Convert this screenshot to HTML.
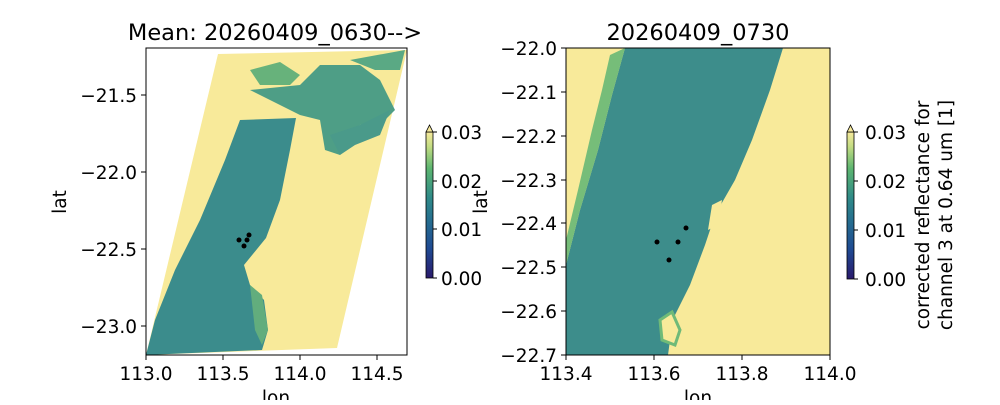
<!DOCTYPE html>
<html><head><style>
body{margin:0;background:#fff;}
text{font-family:"DejaVu Sans","Liberation Sans",sans-serif;fill:#000;}
</style></head><body>
<svg width="1000" height="400" xmlns="http://www.w3.org/2000/svg">
<defs>
<linearGradient id="cb" x1="0" y1="1" x2="0" y2="0">
<stop offset="0" stop-color="#2a1a6c"/>
<stop offset="0.2" stop-color="#1f4a92"/>
<stop offset="0.4" stop-color="#266f8f"/>
<stop offset="0.55" stop-color="#2f8a88"/>
<stop offset="0.75" stop-color="#5cb570"/>
<stop offset="0.9" stop-color="#c3dc83"/>
<stop offset="1" stop-color="#f6e99c"/>
</linearGradient>
<clipPath id="c1"><rect x="146" y="48" width="261" height="307"/></clipPath>
<clipPath id="c2"><rect x="566" y="48" width="264" height="307"/></clipPath>
</defs>

<!-- LEFT PANEL -->
<g clip-path="url(#c1)">
<polygon points="218,54 407,50 337,348 146,355" fill="#f8ea9a"/>
<polygon points="240,120 296,118 290,150 280,200 266,238 244,265 250,285 264,300 268,330 262,350 146,355 155,320 175,270 200,220 225,160" fill="#3b8c8c"/>
<polygon points="250,90 300,85 320,65 360,65 380,80 395,110 385,120 360,125 340,155 325,150 320,120 300,115 270,100" fill="#4e9e86"/>
<polygon points="250,70 280,62 300,75 290,85 260,85" fill="#67b27b"/>
<polygon points="350,60 405,50 400,70 375,70" fill="#5aa984"/>
<polygon points="330,135 360,125 390,110 380,135 355,145 340,155" fill="#4a9a8a"/>
<polygon points="250,285 262,295 268,330 262,345 255,330" fill="#62ad7d"/>
</g>
<rect x="146" y="48" width="261" height="307" fill="none" stroke="#000" stroke-width="1"/>
<circle cx="239" cy="240" r="2.5"/><circle cx="249" cy="235" r="2.5"/><circle cx="247" cy="240" r="2.5"/><circle cx="244" cy="246" r="2.5"/>
<g stroke="#000">
<line x1="146" y1="355" x2="146" y2="360"/><line x1="223" y1="355" x2="223" y2="360"/><line x1="300" y1="355" x2="300" y2="360"/><line x1="377" y1="355" x2="377" y2="360"/>
<line x1="141" y1="95" x2="146" y2="95"/><line x1="141" y1="172" x2="146" y2="172"/><line x1="141" y1="249" x2="146" y2="249"/><line x1="141" y1="326" x2="146" y2="326"/>
</g>
<g font-size="18.5" text-anchor="middle">
<text x="146" y="380">113.0</text><text x="223" y="380">113.5</text><text x="300" y="380">114.0</text><text x="377" y="380">114.5</text>
<text x="276" y="404">lon</text>
</g>
<g font-size="18.5" text-anchor="end">
<text x="137" y="102">−21.5</text><text x="137" y="179">−22.0</text><text x="137" y="256">−22.5</text><text x="137" y="333">−23.0</text>
</g>
<text x="66" y="202" font-size="18.5" text-anchor="middle" transform="rotate(-90 66 202)">lat</text>
<text x="275" y="40" font-size="22.5" text-anchor="middle">Mean: 20260409_0630--&gt;</text>
<!-- left colorbar -->
<rect x="426" y="132" width="7" height="146" fill="url(#cb)" stroke="#000" stroke-width="0.8"/>
<polygon points="426,132 429.5,125 433,132" fill="#f6e99c" stroke="#000" stroke-width="0.8"/>
<g stroke="#000"><line x1="433" y1="278" x2="437" y2="278"/><line x1="433" y1="229" x2="437" y2="229"/><line x1="433" y1="181" x2="437" y2="181"/><line x1="433" y1="132" x2="437" y2="132"/></g>
<g font-size="18.5"><text x="441" y="285">0.00</text><text x="441" y="236">0.01</text><text x="441" y="188">0.02</text><text x="441" y="139">0.03</text></g>

<!-- RIGHT PANEL -->
<g clip-path="url(#c2)">
<rect x="566" y="48" width="264" height="307" fill="#f8ea9a"/>
<polygon points="625,48 783,48 770,90 752,140 735,180 715,215 705,245 690,285 675,315 670,340 668,355 566,355 566,265 580,210 598,150 612,95" fill="#3d8d8b"/>
<polygon points="610,55 625,48 612,95 598,150 580,210 566,265 566,240 578,190 592,130 602,90" fill="#76bd79"/>
<polygon points="712,205 722,200 718,225 708,230" fill="#f8ea9a"/>
<polygon points="660,320 672,312 680,330 675,345 662,340" fill="#f8ea9a" stroke="#6fba78" stroke-width="3"/>
</g>
<rect x="566" y="48" width="264" height="307" fill="none" stroke="#000" stroke-width="1"/>
<circle cx="657" cy="242" r="2.5"/><circle cx="686" cy="228" r="2.5"/><circle cx="678" cy="242" r="2.5"/><circle cx="669" cy="260" r="2.5"/>
<g stroke="#000">
<line x1="566" y1="355" x2="566" y2="360"/><line x1="654" y1="355" x2="654" y2="360"/><line x1="742" y1="355" x2="742" y2="360"/><line x1="830" y1="355" x2="830" y2="360"/>
<line x1="561" y1="48" x2="566" y2="48"/><line x1="561" y1="92" x2="566" y2="92"/><line x1="561" y1="136" x2="566" y2="136"/><line x1="561" y1="180" x2="566" y2="180"/><line x1="561" y1="223" x2="566" y2="223"/><line x1="561" y1="267" x2="566" y2="267"/><line x1="561" y1="311" x2="566" y2="311"/><line x1="561" y1="355" x2="566" y2="355"/>
</g>
<g font-size="18.5" text-anchor="middle">
<text x="566" y="380">113.4</text><text x="654" y="380">113.6</text><text x="742" y="380">113.8</text><text x="830" y="380">114.0</text>
<text x="698" y="404">lon</text>
</g>
<g font-size="18.5" text-anchor="end">
<text x="557" y="55">−22.0</text><text x="557" y="99">−22.1</text><text x="557" y="143">−22.2</text><text x="557" y="187">−22.3</text><text x="557" y="230">−22.4</text><text x="557" y="274">−22.5</text><text x="557" y="318">−22.6</text><text x="557" y="362">−22.7</text>
</g>
<text x="487" y="202" font-size="18.5" text-anchor="middle" transform="rotate(-90 487 202)">lat</text>
<text x="698" y="40" font-size="22.5" text-anchor="middle">20260409_0730</text>
<!-- right colorbar -->
<rect x="847" y="132" width="7" height="147" fill="url(#cb)" stroke="#000" stroke-width="0.8"/>
<polygon points="847,132 850.5,125 854,132" fill="#f6e99c" stroke="#000" stroke-width="0.8"/>
<g stroke="#000"><line x1="854" y1="279" x2="858" y2="279"/><line x1="854" y1="230" x2="858" y2="230"/><line x1="854" y1="181" x2="858" y2="181"/><line x1="854" y1="132" x2="858" y2="132"/></g>
<g font-size="18.5"><text x="865" y="286">0.00</text><text x="865" y="237">0.01</text><text x="865" y="188">0.02</text><text x="865" y="139">0.03</text></g>
<text font-size="18.5" text-anchor="middle" transform="translate(929 215) rotate(-90)">corrected reflectance for</text>
<text font-size="18.5" text-anchor="middle" transform="translate(952 215) rotate(-90)">channel 3 at 0.64 um [1]</text>
</svg>
</body></html>
